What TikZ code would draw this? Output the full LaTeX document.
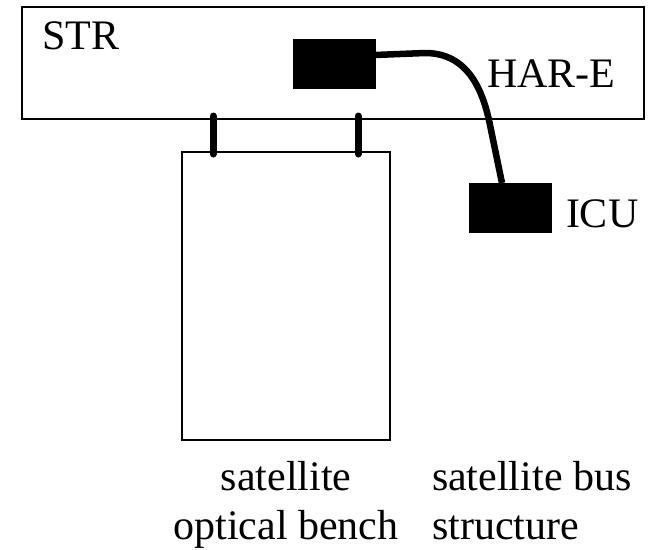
\documentclass[tikz,border=0pt]{standalone}
\usepackage{fontspec}
\setmainfont{Liberation Serif}
\begin{document}
\begin{tikzpicture}[x=1pt,y=-1pt,
  frame/.style={draw=black,line width=1.6pt,fill=white,inner sep=0pt,outer sep=0pt},
  unit/.style={draw=black,fill=black,line width=0.5pt,inner sep=0pt,outer sep=0pt,minimum width=82pt,minimum height=49pt},
  lbl/.style={inner sep=0pt,outer sep=0pt,font=\fontsize{42}{49}\selectfont},
  post/.style={line width=7pt,line cap=round},
  cable/.style={line width=6.5pt,line cap=butt}]
\useasboundingbox (0,0) rectangle (653,549);
% structures
\node[frame,minimum width=622pt,minimum height=112pt] (str) at (333,63) {};
\node[frame,minimum width=208pt,minimum height=288pt] (bench) at (286,296) {};
% units
\node[unit] (hare) at (334,63.5) {};
\node[unit] (icu) at (510,207.5) {};
% mounting posts
\coordinate (p1a) at (213,116);
\coordinate (p1b) at (213,154);
\coordinate (p2a) at (358,116);
\coordinate (p2b) at (358,154);
\draw[post] (p1a) -- (p1b);
\draw[post] (p2a) -- (p2b);
% cable
\coordinate (c1) at (425,53);
\coordinate (c2) at (490,125);
\draw[cable] (hare.east |- 0,55) -- (c1) .. controls (465,53) and (482,85) .. (c2) -- (icu.north -| 502,0);
% labels
\node[lbl,anchor=base west] (strlbl) at (42,49) {STR};
\node[lbl,anchor=base west] (harelbl) at (487,87) {HAR-E};
\node[lbl,anchor=base west] (iculbl) at (566,227) {ICU};
\node[lbl,anchor=base,align=center] (benchlbl) at (286,539) {satellite\\optical bench};
\node[lbl,anchor=base west,align=left] (buslbl) at (432,539) {satellite bus\\structure};
\end{tikzpicture}
\end{document}
